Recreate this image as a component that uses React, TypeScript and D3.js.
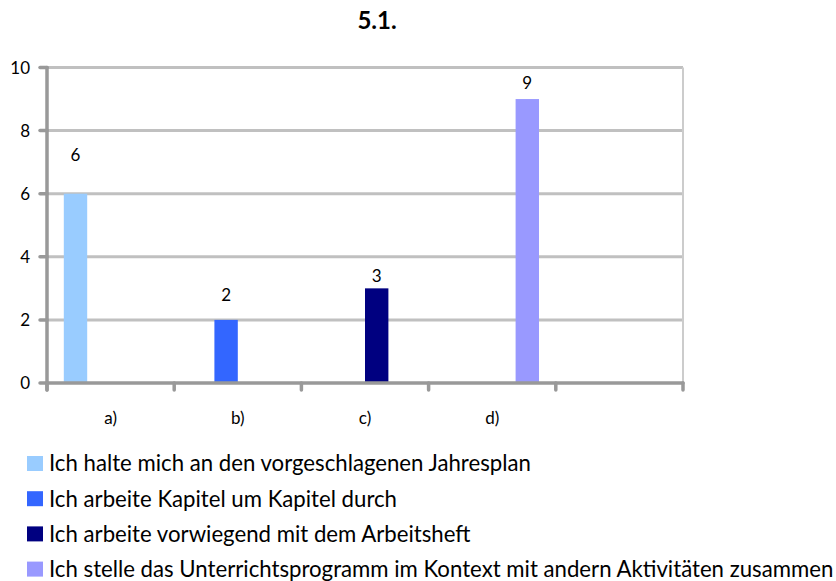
import React from "react";
import * as d3 from "d3";

const title = "5.1.";
const categories = ["a)", "b)", "c)", "d)", ""];
const seriesNames = [
  "Ich halte mich an den vorgeschlagenen Jahresplan",
  "Ich arbeite Kapitel um Kapitel durch",
  "Ich arbeite vorwiegend mit dem Arbeitsheft",
  "Ich stelle das Unterrichtsprogramm im Kontext mit andern Aktivitäten zusammen",
];
const seriesValues = [6, 2, 3, 9];
const seriesCategory = ["a)", "b)", "c)", "d)"];
const seriesColors = ["#99CCFF", "#3366FF", "#000080", "#9999FF"];
const yTicks = [0, 2, 4, 6, 8, 10];
const labelLift = [33, 19, 6, 10.5];

const W = 836;
const H = 581;
const FONT = "Lato, 'Open Sans', sans-serif";

export default function App() {
  const left = 47;
  const right = 683;
  const top = 67.5;
  const bottom = 383;

  const x = d3.scaleBand<string>().domain(categories).range([left, right]).paddingInner(0).paddingOuter(0);
  const xs = d3
    .scaleBand<number>()
    .domain(d3.range(seriesNames.length))
    .range([0, x.bandwidth()])
    .paddingInner(0)
    .paddingOuter(0.718);
  const y = d3.scaleLinear().domain([0, 10]).range([bottom, top]);

  const boundaries = categories.map((c) => x(c) as number).concat([right]);

  return (
    <svg
      width={W}
      height={H}
      style={{ position: "absolute", left: 0, top: 0, background: "#fff" }}
      fontFamily={FONT}
    >
      <rect width={W} height={H} fill="#fff" />
      <text x={377} y={29} textAnchor="middle" fontSize={24} fontWeight="bold" fill="#000">
        {title}
      </text>

      {/* gridlines */}
      {yTicks.filter((t) => t > 0).map((t) => (
        <line key={"g" + t} x1={left} x2={right} y1={y(t)} y2={y(t)} stroke="#c0c0c0" strokeWidth={3} />
      ))}
      {/* right border */}
      <line x1={right} x2={right} y1={top} y2={bottom} stroke="#cccccc" strokeWidth={2} />

      {/* bars */}
      {seriesValues.map((v, i) => {
        const bx = (x(seriesCategory[i]) as number) + (xs(i) as number);
        return (
          <rect key={"b" + i} x={bx} y={y(v)} width={xs.bandwidth()} height={y(0) - y(v)} fill={seriesColors[i]} />
        );
      })}

      {/* axes */}
      <line x1={left} x2={left} y1={top} y2={bottom + 7} stroke="#999999" strokeWidth={3.5} strokeLinecap="round" />
      <line x1={left} x2={right} y1={bottom} y2={bottom} stroke="#999999" strokeWidth={3.5} strokeLinecap="round" />
      {yTicks.map((t) => (
        <g key={"yt" + t}>
          <line x1={40} x2={left} y1={y(t)} y2={y(t)} stroke="#999999" strokeWidth={3.5} strokeLinecap="round" />
          <text x={30} y={y(t)} dy="0.36em" textAnchor="end" fontSize={17} fill="#000">
            {t}
          </text>
        </g>
      ))}
      {boundaries.map((bx, i) => (
        <line key={"xt" + i} x1={bx} x2={bx} y1={bottom} y2={bottom + 7} stroke="#999999" strokeWidth={3.5} strokeLinecap="round" />
      ))}
      {categories.map((c, i) => (
        <text key={"xl" + i} x={(x(c) as number) + x.bandwidth() / 2} y={424} textAnchor="middle" fontSize={17} fill="#000">
          {c}
        </text>
      ))}

      {/* data labels */}
      {seriesValues.map((v, i) => {
        const bx = (x(seriesCategory[i]) as number) + (xs(i) as number) + xs.bandwidth() / 2;
        return (
          <text key={"dl" + i} x={bx} y={y(v) - labelLift[i]} textAnchor="middle" fontSize={17} fill="#000">
            {v}
          </text>
        );
      })}

      {/* legend */}
      {seriesNames.map((n, i) => {
        const cy = 463.5 + i * 35.2;
        return (
          <g key={"lg" + i}>
            <rect x={27} y={cy - 7.5} width={16} height={15} fill={seriesColors[i]} />
            <text x={49} y={cy} dy="0.36em" fontSize={22.2} fill="#000">
              {n}
            </text>
          </g>
        );
      })}
    </svg>
  );
}
